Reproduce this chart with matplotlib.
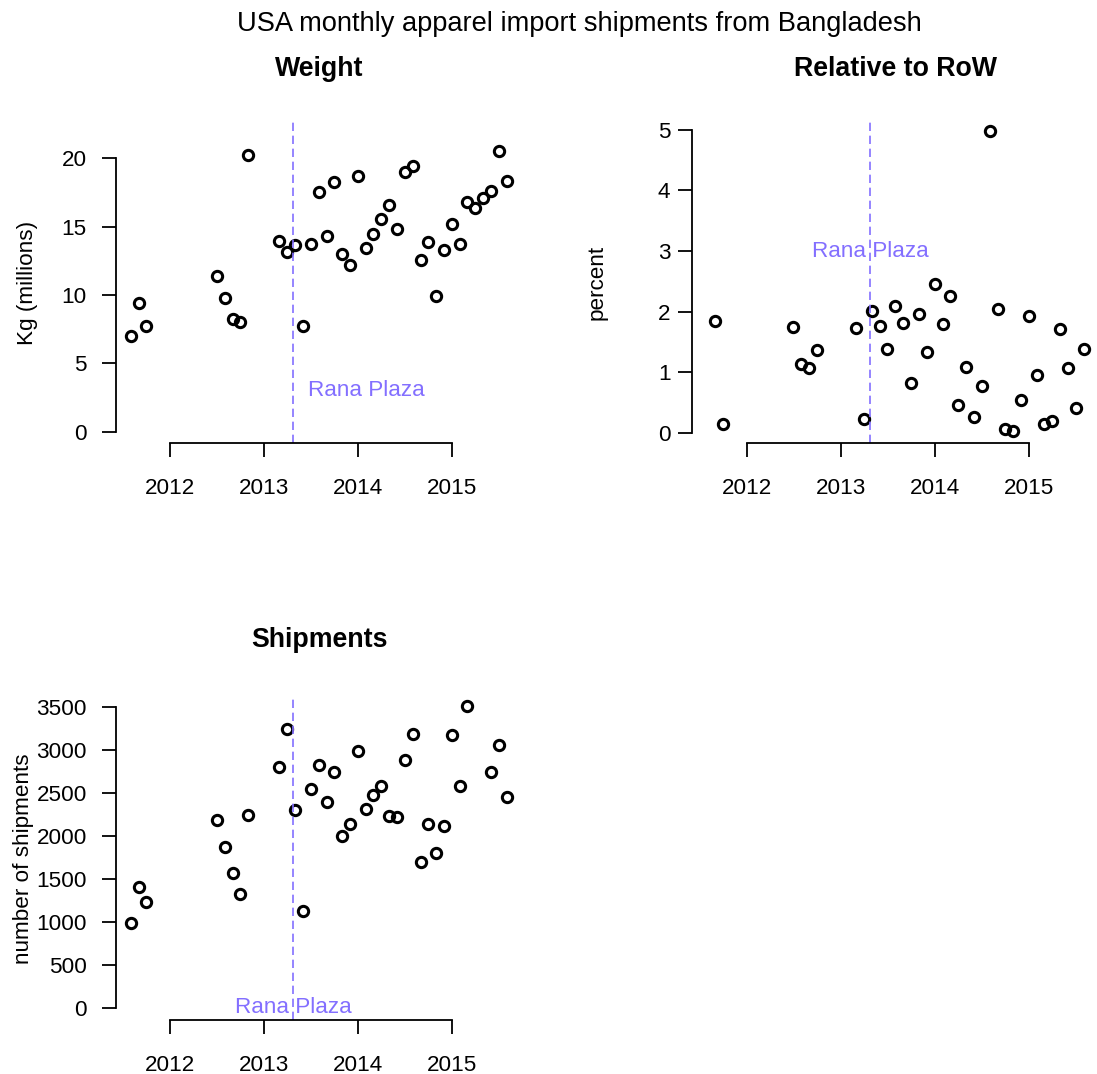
import numpy as np
import pandas as pd
import matplotlib
matplotlib.use("Agg")
import matplotlib.pyplot as plt

plt.rcParams['font.family'] = ['Liberation Sans', 'DejaVu Sans']

# monthly data (NaN = missing)
months = ["2011-08", "2011-09", "2011-10",
          "2012-07", "2012-08", "2012-09", "2012-10", "2012-11"] + \
         [f"{y}-{m:02d}" for y in (2013, 2014, 2015) for m in range(1, 13)
          if (y, m) >= (2013, 3) and (y, m) <= (2015, 8)]

weight = [7.0, 9.41, 7.71,
          11.39, 9.76, 8.27, 8.0, 20.22,
          13.93, 13.17, 13.66, 7.71, 13.71, 17.56, 14.32, 18.24, 12.98, 12.2,
          18.68, 13.46, 14.44, 15.56, 16.61, 14.85, 18.98, 19.44, 12.54, 13.88, 9.95, 13.32,
          15.22, 13.73, 16.8, 16.39, 17.07, 17.61, 20.56, 18.34]

relative = [np.nan, 1.85, 0.143,
            1.74, 1.134, 1.074, 1.366, np.nan,
            1.73, 0.226, 2.004, 1.768, 1.377, 2.10, 1.806, 0.826, 1.96, 1.338,
            2.456, 1.795, 2.252, 0.463, 1.085, 0.264, 0.776, 4.983, 2.043, 0.061, 0.022, 0.534,
            1.933, 0.947, 0.149, 0.198, 1.718, 1.063, 0.402, 1.377]

shipments = [988, 1399, 1225,
             2178, 1872, 1562, 1318, 2244,
             2802, 3240, 2298, 1128, 2546, 2818, 2388, 2740, 1992, 2136,
             2981, 2314, 2473, 2581, 2233, 2213, 2884, 3178, 1698, 2140, 1802, 2116,
             3174, 2581, 3512, np.nan, np.nan, 2736, 3054, 2446]

year_ticks = [2012, 2013, 2014, 2015]
rana_plaza = "2013-04-24"


def dec_year(s):
    d = pd.to_datetime(s)
    ndays = 366 if d.is_leap_year else 365
    return d.year + (d.dayofyear - 1) / ndays


x = np.array([dec_year(m + "-01") for m in months])
x_rp = dec_year(rana_plaza)

W, H = 1097, 1074
fig = plt.figure(figsize=(W / 100, H / 100), dpi=100)

purple = '#836FFF'
fs = 16.2


def px_axes(left, top, right, bottom):
    return fig.add_axes([left / W, 1 - bottom / H, (right - left) / W, (bottom - top) / H])


def style(ax, yticks, ypad):
    for s in ['top', 'right']:
        ax.spines[s].set_visible(False)
    ax.spines['left'].set_bounds(yticks[0], yticks[-1])
    ax.spines['bottom'].set_bounds(year_ticks[0], year_ticks[-1])
    for s in ['left', 'bottom']:
        ax.spines[s].set_linewidth(1.3)
    ax.set_xticks(year_ticks)
    ax.set_xticklabels([str(t) for t in year_ticks])
    ax.set_yticks(yticks)
    ax.tick_params(axis='both', direction='out', length=10, width=1.3, labelsize=fs)
    ax.tick_params(axis='x', pad=15)
    ax.tick_params(axis='y', pad=ypad)
    ax.patch.set_visible(False)


def draw(ax, y):
    ax.plot(x, y, 'o', ms=7.4, mfc='none', mec='black', mew=2.2, clip_on=False)
    ax.axvline(x_rp, color=purple, lw=1.2, ls=(0, (5, 2.8)))


def title(xc, ybase, s):
    fig.text(xc / W, 1 - ybase / H, s, fontsize=19.3, fontweight='bold', ha='center', va='baseline')


xlim = (2011.423, 2015.743)

# Weight
ax1 = px_axes(115.7, 122, 521.8, 443.3)
draw(ax1, weight)
ax1.set_xlim(*xlim)
ax1.set_ylim(-0.85, 22.66)
style(ax1, [0, 5, 10, 15, 20], 10.8)
ax1.annotate("Rana Plaza", (x_rp, 3.0), xytext=(10.5, 0), textcoords='offset points',
             color=purple, fontsize=fs, ha='left', va='center')
title(319.5, 76, "Weight")

# Relative to RoW
ax2 = px_axes(692.4, 122, 1098.9, 443.3)
draw(ax2, relative)
ax2.set_xlim(*xlim)
ax2.set_ylim(-0.175, 5.13)
style(ax2, [0, 1, 2, 3, 4, 5], 5.8)
ax2.text(x_rp, 3.0, "Rana Plaza", color=purple, fontsize=fs, ha='center', va='center')
title(895, 76, "Relative to RoW")

# Shipments
ax3 = px_axes(115.7, 698, 521.8, 1020)
draw(ax3, shipments)
ax3.set_xlim(*xlim)
ax3.set_ylim(-143, 3601)
style(ax3, list(range(0, 3501, 500)), 10.8)
ax3.text(x_rp, 0, "Rana Plaza", color=purple, fontsize=fs, ha='center', va='center')
title(319, 647, "Shipments")

# y labels
fig.text(27 / W, 1 - 282.6 / H, "Kg (millions)", rotation=90, fontsize=fs, ha='center', va='center')
fig.text(597 / W, 1 - 282.6 / H, "percent", rotation=90, fontsize=fs, ha='center', va='center')
fig.text(24 / W, 1 - 859 / H, "number of shipments", rotation=90, fontsize=fs, ha='center', va='center')

fig.text(579 / W, 1 - 30.9 / H, "USA monthly apparel import shipments from Bangladesh",
         fontsize=19.6, ha='center', va='baseline')

fig.savefig("out.png", dpi=100)
